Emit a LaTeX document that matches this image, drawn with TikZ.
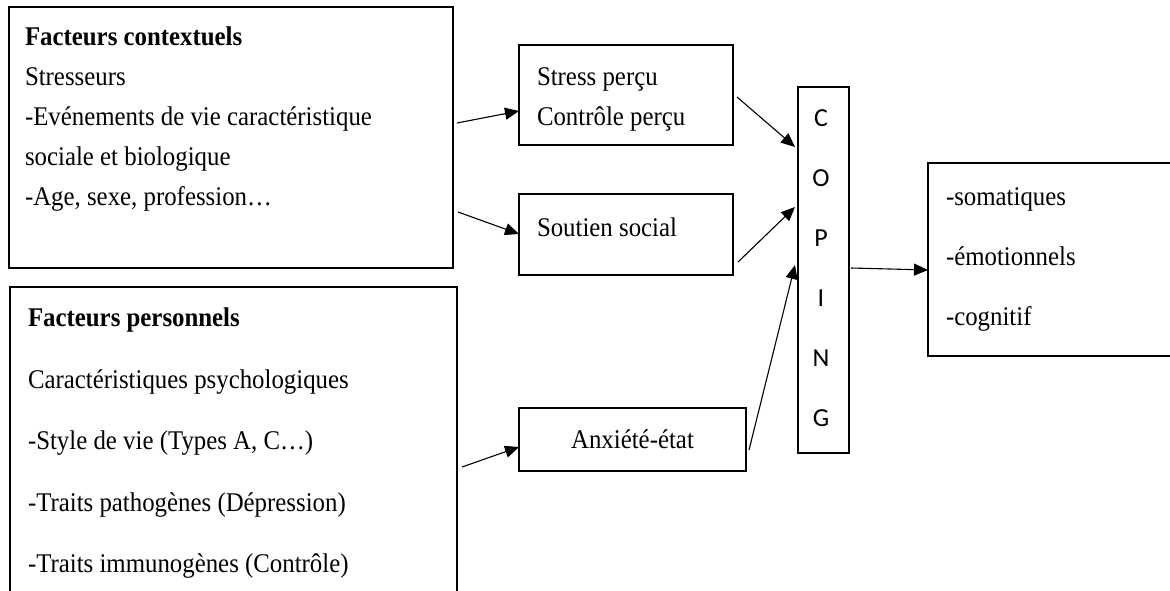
\documentclass[tikz,border=0pt]{standalone}
\usepackage{fontspec}
\setmainfont{Liberation Serif}[FakeStretch=0.92]
\newfontfamily\copingfont{Carlito}
\usetikzlibrary{calc,arrows.meta}
\begin{document}
\begin{tikzpicture}[x=1pt,y=-1pt,
  boxstyle/.style={draw, line width=2.2pt, rectangle, inner sep=0pt, outer sep=0pt, anchor=north west},
  txt/.style={inner sep=0pt, outer sep=0pt, anchor=north west, align=left, font=\fontsize{27}{40}\selectfont},
  arr/.style={line width=1.1pt, -{Triangle[length=14pt,width=12pt]}}]
\path[use as bounding box, clip] (0,0) rectangle (1170,591);
\fill[white] (0,0) rectangle (1170,591);
% boxes
\node[boxstyle, minimum width=444pt, minimum height=261pt] (ctx) at (9,7) {};
\node[txt] (ctxtext) at (25,27) {\textbf{Facteurs contextuels}\\Stresseurs\\-Evénements de vie caractéristique\\sociale et biologique\\-Age, sexe, profession…};
\node[boxstyle, minimum width=447pt, minimum height=340pt] (pers) at (10,287) {};
\node[txt, font=\fontsize{27}{61.5}\selectfont] (perstext) at (28,308) {\textbf{Facteurs personnels}\\Caractéristiques psychologiques\\-Style de vie (Types A, C…)\\-Traits pathogènes (Dépression)\\-Traits immunogènes (Contrôle)};
\node[boxstyle, minimum width=214pt, minimum height=100pt] (stress) at (519,45) {};
\node[txt] (stresstext) at (537,68) {Stress perçu\\Contrôle perçu};
\node[boxstyle, minimum width=214pt, minimum height=81pt] (soutien) at (519,194) {};
\node[txt] (soutientext) at (537,218) {Soutien social};
\node[boxstyle, minimum width=227pt, minimum height=63pt, font=\fontsize{27}{40}\selectfont] (anx) at (519,408) {Anxiété-état};
\node[boxstyle, minimum width=51pt, minimum height=366pt] (coping) at (798,87) {};
\node[inner sep=0pt, align=center, font=\copingfont\fontsize{26}{60}\selectfont] (copingtext) at (821,268) {C\\O\\P\\I\\N\\G};
\node[boxstyle, minimum width=260pt, minimum height=193pt] (res) at (928,163) {};
\node[txt, font=\fontsize{27}{60}\selectfont] (restext) at (946,188) {-somatiques\\-émotionnels\\-cognitif};
% connectors
\draw[arr] ($(ctx.north east)+(4,116)$) -- ($(stress.north west)+(0,66)$);
\draw[arr] ($(ctx.north east)+(5,205)$) -- ($(soutien.north west)+(0,40)$);
\draw[arr] ($(pers.north east)+(5,180)$) -- ($(anx.north west)+(0,39)$);
\draw[arr] ($(stress.north east)+(4,52)$) -- ($(coping.north west)+(-3,60)$);
\draw[arr] ($(soutien.north east)+(5,68)$) -- ($(coping.north west)+(-3,120)$);
\draw[arr] ($(anx.north east)+(3,42)$) -- ($(coping.north west)+(-3,178)$);
\draw[arr] ($(coping.north east)+(2,181)$) -- ($(res.north west)+(0,107)$);
\end{tikzpicture}
\end{document}
